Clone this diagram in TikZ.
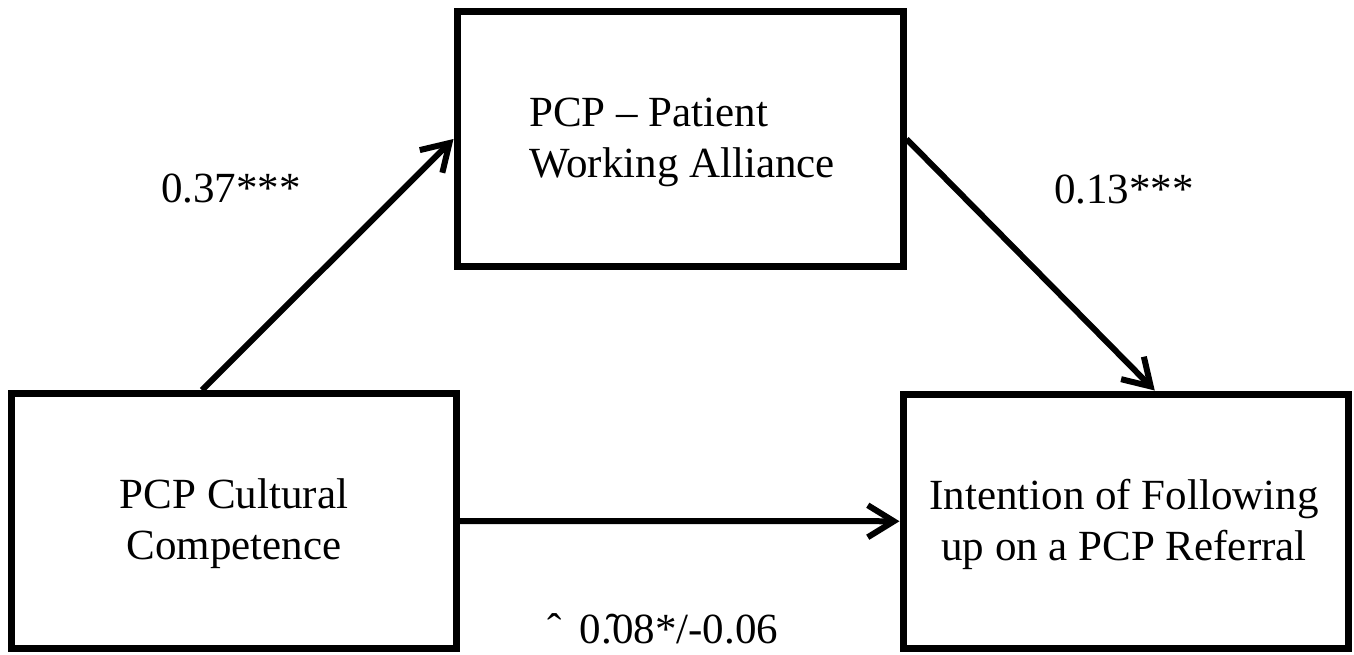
\documentclass[tikz,border=0pt]{standalone}
\usepackage{fontspec}
\setmainfont{Liberation Serif}
\usetikzlibrary{arrows.meta}
\begin{document}
\begin{tikzpicture}[x=0.5pt,y=-0.5pt,
  box/.style={draw,line width=3.5pt,rectangle,inner sep=0pt},
  txt/.style={align=center,inner sep=0pt,font=\fontsize{21.5}{25.5}\selectfont},
  arr/.style={line width=3pt,-{Straight Barb[length=13pt,width=16pt,line width=3pt]}},
  lbl/.style={font=\fontsize{21.5}{25.5}\selectfont,inner sep=0pt}]
\useasboundingbox[fill=white] (0,0) rectangle (1354,654);
\node[box,minimum width=222.5pt,minimum height=127.5pt] (lb) at (234,521) {};
\node[box,minimum width=223pt,minimum height=127.5pt] (tb) at (680,139) {};
\node[box,minimum width=222.75pt,minimum height=127.25pt] (rb) at (1125.75,521.25) {};
\node[txt] (lbt) at (234,524) {PCP Cultural\\Competence};
\node[txt,align=left] (tbt) at (682,142) {PCP – Patient\\Working Alliance};
\node[txt] (rbt) at (1124,524) {Intention of Following\\up on a PCP Referral};
\coordinate (s1) at ([xshift=-16pt]lb.north);
\coordinate (e2) at ([xshift=14.5pt]rb.north);
\draw[arr] (s1) -- (tb.west);
\draw[arr] (tb.east) -- (e2);
\draw[arr] (lb.east) -- (rb.west);
\node[lbl] (l1) at (231,188) {0.37***};
\node[lbl] (l2) at (1124,189) {0.13***};
\node[lbl] (l3) at (663,629) {ˆ\,\ 0.̑08*/-0.06};
\end{tikzpicture}
\end{document}
